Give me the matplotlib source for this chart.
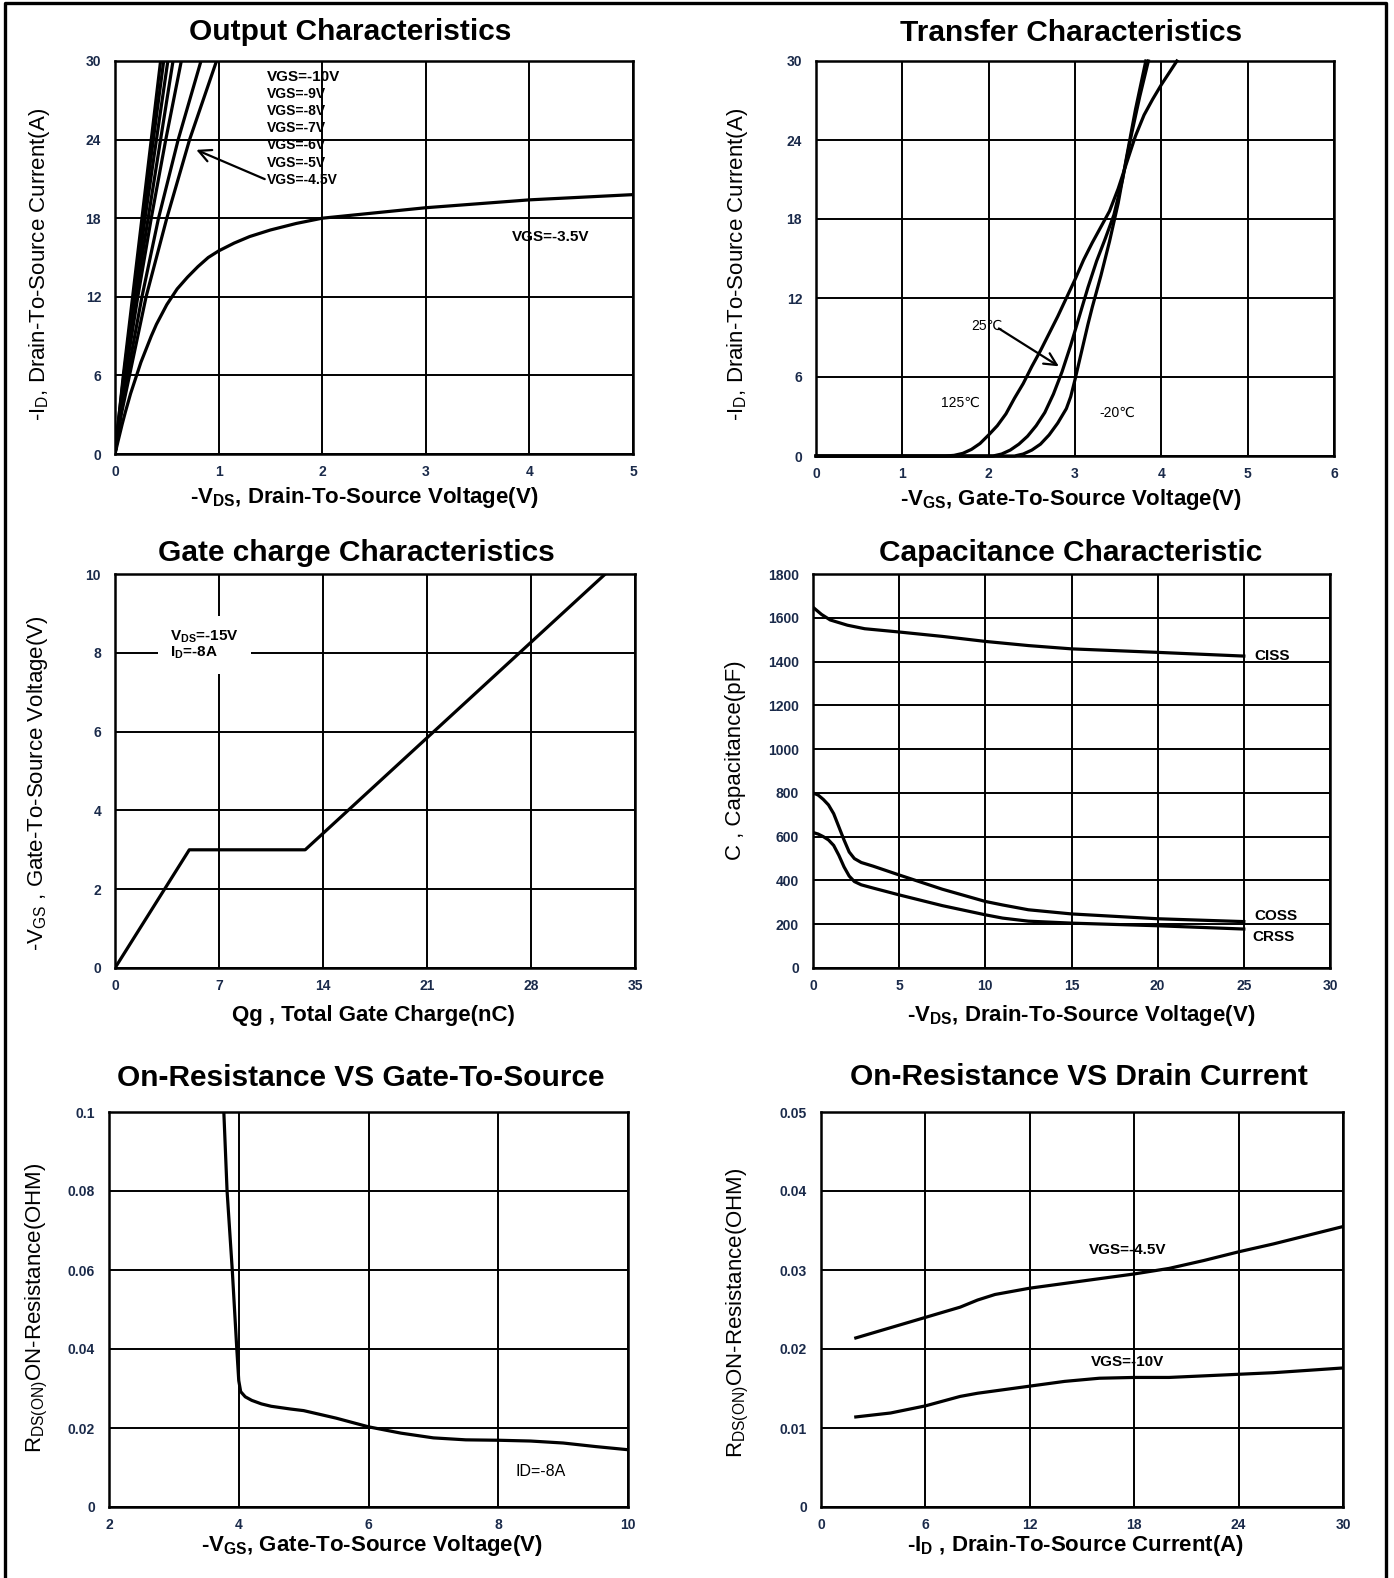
import matplotlib
matplotlib.use("Agg")
import matplotlib.pyplot as plt
from matplotlib.lines import Line2D

plt.rcParams['font.family'] = ['Liberation Sans', 'DejaVu Sans']
plt.rcParams['mathtext.fontset'] = 'custom'
plt.rcParams['mathtext.rm'] = 'Liberation Sans'
plt.rcParams['mathtext.bf'] = 'Liberation Sans:bold'

# ---- Output characteristics
vgs_labels = ['VGS=-10V', 'VGS=-9V', 'VGS=-8V', 'VGS=-7V', 'VGS=-6V', 'VGS=-5V', 'VGS=-4.5V']
id_steep = [0, 3, 6, 12, 18, 24, 30]
vds_vgs10 = [0, 0.04, 0.08, 0.17, 0.26, 0.35, 0.44]
vds_vgs9 = [0, 0.04, 0.085, 0.18, 0.27, 0.37, 0.47]
vds_vgs8 = [0, 0.045, 0.09, 0.19, 0.29, 0.4, 0.51]
vds_vgs7 = [0, 0.045, 0.095, 0.2, 0.32, 0.44, 0.56]
vds_vgs6 = [0, 0.05, 0.1, 0.22, 0.35, 0.49, 0.64]
vds_vgs5 = [0, 0.055, 0.12, 0.26, 0.42, 0.61, 0.83]
vds_vgs45 = [0, 0.06, 0.14, 0.3, 0.5, 0.72, 0.98]
vds_vgs35 = [0, 0.03, 0.07, 0.1, 0.15, 0.2, 0.25, 0.3, 0.35, 0.4, 0.5, 0.6, 0.7, 0.8, 0.9,
             1.0, 1.15, 1.3, 1.5, 1.75, 2.0, 2.5, 3.0, 3.5, 4.0, 4.5, 5.0]
id_vgs35 = [0, 1.0, 2.3, 3.2, 4.6, 5.8, 7.0, 8.0, 9.0, 9.9, 11.4, 12.6, 13.5, 14.3, 15.0,
            15.5, 16.1, 16.6, 17.1, 17.6, 18.0, 18.4, 18.8, 19.1, 19.4, 19.6, 19.8]

# ---- Transfer characteristics
vgs_125 = [0, 1.5, 1.6, 1.7, 1.8, 1.9, 2.0, 2.1, 2.2, 2.3, 2.4, 2.5, 2.6, 2.7, 2.8, 2.9,
           3.0, 3.1, 3.2, 3.3, 3.4, 3.5, 3.6, 3.7, 3.8, 3.9, 4.0, 4.1, 4.18]
id_125 = [0, 0, 0.05, 0.2, 0.5, 0.95, 1.6, 2.3, 3.2, 4.4, 5.5, 6.8, 8.0, 9.3, 10.6, 12.0,
          13.4, 14.9, 16.2, 17.4, 18.6, 20.3, 22.3, 24.3, 25.9, 27.1, 28.2, 29.2, 30.0]
vgs_25 = [0, 2.05, 2.15, 2.25, 2.35, 2.45, 2.55, 2.65, 2.75, 2.85, 2.95, 3.05, 3.15, 3.25,
          3.35, 3.45, 3.55, 3.65, 3.75, 3.85]
id_25 = [0, 0, 0.15, 0.45, 0.9, 1.5, 2.3, 3.3, 4.7, 6.4, 8.4, 10.6, 12.8, 14.8, 16.5,
         18.3, 21.0, 24.3, 27.3, 30.0]
vgs_m20 = [0, 2.3, 2.4, 2.5, 2.6, 2.7, 2.8, 2.9, 2.95, 3.0, 3.05, 3.1, 3.15, 3.2, 3.25,
           3.3, 3.4, 3.5, 3.6, 3.7, 3.82]
id_m20 = [0, 0, 0.15, 0.45, 0.9, 1.6, 2.5, 3.6, 4.5, 5.8, 7.2, 8.6, 10.0, 11.3, 12.5,
          13.7, 16.3, 19.2, 22.8, 26.3, 30.0]

# ---- Gate charge
qg = [0, 5, 12.8, 33]
vgs_qg = [0, 3, 3, 10]

# ---- Capacitance
vds_ciss = [0, 0.5, 1, 1.5, 2, 3, 5, 7.5, 10, 12.5, 15, 20, 25]
ciss = [1648, 1615, 1590, 1578, 1566, 1550, 1535, 1515, 1492, 1473, 1458, 1442, 1425]
vds_oss = [0, 0.3, 0.6, 0.9, 1.2, 1.5, 1.8, 2.1, 2.4, 2.8, 3.5, 5, 7.5, 10, 11, 12.5, 15, 20, 25]
coss = [800, 790, 770, 745, 705, 645, 585, 530, 500, 482, 465, 425, 360, 304, 288, 266,
        247, 225, 212]
crss = [619, 612, 600, 585, 560, 515, 462, 420, 395, 380, 365, 334, 285, 243, 228, 214,
        205, 193, 178]

# ---- On-resistance vs VGS
vgs_r = [3.77, 3.82, 3.9, 3.97, 4.0, 4.03, 4.1, 4.2, 4.35, 4.5, 4.8, 5.0, 5.5, 6.0, 6.5,
         7.0, 7.5, 8.0, 8.5, 9.0, 9.5, 10.0]
rds_vgs = [0.1, 0.08, 0.06, 0.04, 0.032, 0.0292, 0.0279, 0.027, 0.0261, 0.0255, 0.0248,
           0.0244, 0.0225, 0.0203, 0.0187, 0.0175, 0.017, 0.0169, 0.0167, 0.0162, 0.0153,
           0.0145]

# ---- On-resistance vs ID
id_r = [2, 4, 6, 8, 9, 10, 12, 14, 16, 18, 20, 22, 24, 26, 28, 30]
rds_45 = [0.0214, 0.0227, 0.024, 0.0253, 0.0262, 0.0269, 0.0277, 0.0283, 0.0289, 0.0295,
          0.0302, 0.0312, 0.0323, 0.0333, 0.0344, 0.0355]
rds_10 = [0.0114, 0.0119, 0.0128, 0.014, 0.0144, 0.0147, 0.0153, 0.0159, 0.0163, 0.0164,
          0.0164, 0.0166, 0.0168, 0.017, 0.0173, 0.0176]

W, H = 1394, 1578
fig = plt.figure(figsize=(W / 100, H / 100), dpi=100)
TICKC = '#1a2a4a'
LW = 2.3


def mkax(l, r, t, b):
    return fig.add_axes([l / W, 1 - b / H, (r - l) / W, (b - t) / H])


def setup(ax, xt, yt, xtl=None, ytl=None):
    ax.set_xlim(xt[0], xt[-1])
    ax.set_ylim(yt[0], yt[-1])
    ax.set_xticks(xt)
    ax.set_yticks(yt)
    if xtl:
        ax.set_xticklabels(xtl)
    if ytl:
        ax.set_yticklabels(ytl)
    ax.grid(True, color='black', lw=1.4)
    ax.set_axisbelow(True)
    for s in ax.spines.values():
        s.set_linewidth(1.8)
    ax.tick_params(length=0, labelsize=10, colors=TICKC, pad=8)
    ax.tick_params(axis='y', pad=10)
    for lab in ax.get_xticklabels() + ax.get_yticklabels():
        lab.set_fontweight('bold')


def ftext(x, y, s, **kw):
    fig.text(x / W, 1 - y / H, s, ha='center', va='center', **kw)


def labels(title, tpos, xlabel, xpos, ylabel, ypos):
    ftext(*tpos, title, fontsize=21.5, fontweight='bold')
    ftext(*xpos, xlabel, fontsize=16, fontweight='bold')
    ftext(*ypos, ylabel, fontsize=16, rotation=90)


# Output characteristics
ax1 = mkax(115, 633, 61, 454)
setup(ax1, [0, 1, 2, 3, 4, 5], [0, 6, 12, 18, 24, 30])
for vds in [vds_vgs10, vds_vgs9, vds_vgs8, vds_vgs7, vds_vgs6, vds_vgs5, vds_vgs45]:
    ax1.plot(vds, id_steep, color='black', lw=LW)
ax1.plot(vds_vgs35, id_vgs35, color='black', lw=LW)
for i, s in enumerate(vgs_labels):
    ax1.text(1.47, 28.8 - 1.31 * i, s, fontsize=11 if i == 0 else 10, fontweight='bold',
             va='center', ha='left')
ax1.annotate('', xy=(0.76, 23.3), xytext=(1.47, 20.9),
             arrowprops=dict(arrowstyle='->', lw=1.6, color='black', mutation_scale=22))
ax1.text(3.83, 16.6, 'VGS=-3.5V', fontsize=11, fontweight='bold', va='center')
labels('Output Characteristics', (350, 32), '-V$_{\\mathregular{DS}}$, Drain-To-Source Voltage(V)',
       (364, 498), '-I$_{\\mathregular{D}}$, Drain-To-Source Current(A)', (40, 264))

# Transfer characteristics
ax2 = mkax(816, 1334, 61, 456)
setup(ax2, [0, 1, 2, 3, 4, 5, 6], [0, 6, 12, 18, 24, 30])
for v, i in [(vgs_125, id_125), (vgs_25, id_25), (vgs_m20, id_m20)]:
    ax2.plot(v, i, color='black', lw=LW, clip_on=False)
ax2.text(1.8, 9.9, '25℃', fontsize=10, va='center')
ax2.annotate('', xy=(2.84, 6.7), xytext=(2.09, 9.8),
             arrowprops=dict(arrowstyle='->', lw=1.6, color='black', mutation_scale=22))
ax2.text(1.45, 4.0, '125℃', fontsize=10, va='center')
ax2.text(3.28, 3.3, '-20℃', fontsize=10, va='center')
labels('Transfer Characteristics', (1071, 33), '-V$_{\\mathregular{GS}}$, Gate-To-Source Voltage(V)',
       (1071, 499), '-I$_{\\mathregular{D}}$, Drain-To-Source Current(A)', (737, 264))

# Gate charge
ax3 = mkax(115, 635, 574, 968)
setup(ax3, [0, 7, 14, 21, 28, 35], [0, 2, 4, 6, 8, 10])
ax3.plot(qg, vgs_qg, color='black', lw=LW)
ax3.text(3.7, 8.2, 'V$_{\\mathregular{DS}}$=-15V\nI$_{\\mathregular{D}}$=-8A', fontsize=11,
         fontweight='bold', va='center', linespacing=0.95,
         bbox=dict(facecolor='white', edgecolor='none', boxstyle='square,pad=0.8'))
labels('Gate charge Characteristics', (356, 553), 'Qg , Total Gate Charge(nC)',
       (373, 1015), '-V$_{\\mathregular{GS}}$ , Gate-To-Source Voltage(V)', (38, 783))

# Capacitance
ax4 = mkax(813, 1330, 574, 968)
setup(ax4, [0, 5, 10, 15, 20, 25, 30], list(range(0, 1801, 200)))
ax4.plot(vds_ciss, ciss, color='black', lw=LW)
ax4.plot(vds_oss, coss, color='black', lw=LW)
ax4.plot(vds_oss, crss, color='black', lw=LW)
ax4.text(25.6, 1427, 'CISS', fontsize=11, fontweight='bold', va='center')
ax4.text(25.6, 236, 'COSS', fontsize=11, fontweight='bold', va='center')
ax4.text(25.5, 140, 'CRSS', fontsize=11, fontweight='bold', va='center')
labels('Capacitance Characteristic', (1071, 553), '-V$_{\\mathregular{DS}}$, Drain-To-Source Voltage(V)',
       (1081, 1015), 'C , Capacitance(pF)', (735, 760))

# On-resistance vs VGS
ax5 = mkax(109, 628, 1112, 1507)
setup(ax5, [2, 4, 6, 8, 10], [0, 0.02, 0.04, 0.06, 0.08, 0.1],
      ytl=['0', '0.02', '0.04', '0.06', '0.08', '0.1'])
ax5.plot(vgs_r, rds_vgs, color='black', lw=LW)
ax5.text(8.26, 0.0089, 'ID=-8A', fontsize=11.5, va='center')
labels('On-Resistance VS Gate-To-Source', (361, 1078), '-V$_{\\mathregular{GS}}$, Gate-To-Source Voltage(V)',
       (372, 1545), 'R$_{\\mathregular{DS(ON)}}$ON-Resistance(OHM)', (37, 1308))

# On-resistance vs ID
ax6 = mkax(821, 1343, 1112, 1507)
setup(ax6, [0, 6, 12, 18, 24, 30], [0, 0.01, 0.02, 0.03, 0.04, 0.05],
      ytl=['0', '0.01', '0.02', '0.03', '0.04', '0.05'])
ax6.plot(id_r, rds_45, color='black', lw=LW)
ax6.plot(id_r, rds_10, color='black', lw=LW)
ax6.text(17.6, 0.0325, 'VGS=-4.5V', fontsize=11, fontweight='bold', ha='center', va='center')
ax6.text(17.6, 0.0184, 'VGS=-10V', fontsize=11, fontweight='bold', ha='center', va='center')
labels('On-Resistance VS Drain Current', (1079, 1077), '-I$_{\\mathregular{D}}$ , Drain-To-Source Current(A)',
       (1075, 1545), 'R$_{\\mathregular{DS(ON)}}$ON-Resistance(OHM)', (738, 1313))

# page frame (left, top, right)
fig.add_artist(Line2D([5 / W, 5 / W, 1386 / W, 1386 / W], [0, 1 - 3 / H, 1 - 3 / H, 0],
                      transform=fig.transFigure, color='black', lw=2.4))

fig.savefig('out.png', dpi=100, facecolor='white')
